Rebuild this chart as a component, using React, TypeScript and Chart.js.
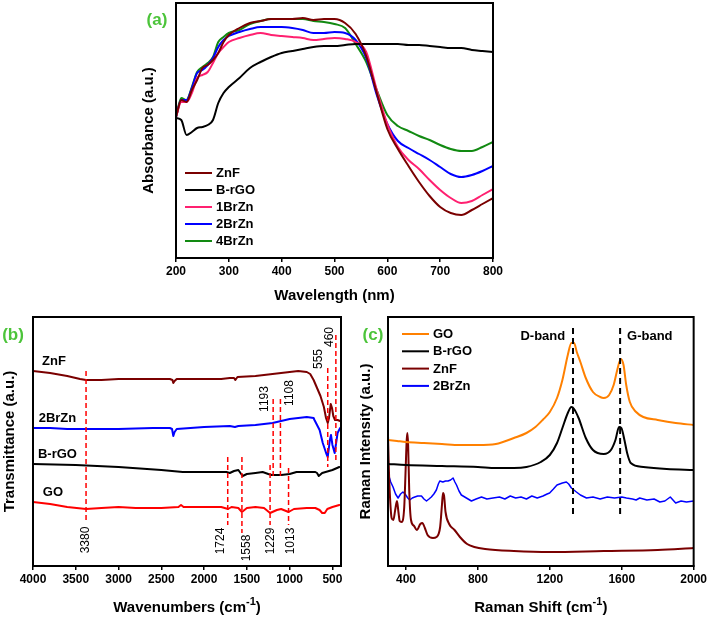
import React, { useEffect, useRef } from 'react';
import { Chart, registerables } from 'chart.js';

Chart.register(...registerables);

const FONT = "'Liberation Sans', Arial, Helvetica, sans-serif";

// ---------- Panel (a): UV-vis absorbance ----------
const uvWavelength = [200, 210, 220, 230, 240, 250, 260, 270, 280, 290, 300, 320, 340, 360, 380, 400, 420, 440, 460, 480, 500, 520, 540, 560, 580, 600, 620, 640, 660, 680, 700, 720, 740, 760, 780, 800];
const uvZnF = [141, 158, 156, 168, 178, 190, 193, 198, 205, 216, 223, 230, 235, 237, 239, 239, 239, 240, 238, 239, 239, 235, 224, 202, 165, 129, 109, 92, 76, 62, 51, 45, 43, 48, 54, 60];
const uvBrGO = [140, 138, 123, 126, 130, 131, 133, 138, 155, 165, 171, 180, 190, 196, 201, 205, 207, 209, 211, 212, 212, 213, 214, 214, 214, 214, 214, 213, 213, 212, 211, 210, 210, 208, 207, 206];
const uv1BrZn = [141, 156, 156, 165, 180, 183, 186, 195, 205, 211, 216, 220, 223, 225, 223, 222, 221, 220, 218, 219, 220, 219, 216, 206, 168, 134, 111, 98, 89, 78, 68, 60, 55, 57, 63, 69];
const uv2BrZn = [141, 158, 158, 170, 185, 188, 193, 200, 211, 218, 222, 226, 229, 231, 231, 231, 230, 228, 225, 225, 226, 225, 218, 200, 163, 134, 117, 110, 104, 98, 91, 84, 81, 83, 87, 92];
const uv4BrZn = [141, 160, 158, 171, 186, 191, 195, 201, 216, 221, 225, 228, 234, 237, 239, 239, 239, 239, 237, 236, 234, 230, 214, 196, 168, 143, 132, 127, 122, 118, 113, 109, 107, 107, 111, 116];
const uvTicks = [200, 300, 400, 500, 600, 700, 800];

// ---------- Panel (b): FTIR transmittance [wavenumber, value] ----------
const ftZnF: [number, number][] = [[4000, 195], [3800, 193], [3600, 190], [3450, 187], [3380, 186], [3200, 186], [3000, 187], [2800, 187], [2500, 187], [2400, 187], [2370, 186], [2360, 183], [2345, 185], [2320, 187], [2200, 187], [2000, 187], [1800, 187], [1700, 188], [1650, 188], [1635, 186], [1610, 189], [1400, 190], [1200, 192], [1000, 194], [900, 195], [800, 194], [760, 192], [720, 186], [680, 178], [640, 170], [600, 159], [575, 148], [555, 143], [540, 148], [520, 162], [505, 158], [490, 150], [470, 146], [440, 146], [410, 145]];
const ft2BrZn: [number, number][] = [[4000, 138], [3800, 138], [3600, 137], [3380, 137], [3000, 137], [2600, 138], [2400, 138], [2375, 137], [2360, 130], [2345, 134], [2320, 137], [2000, 139], [1700, 140], [1640, 139], [1600, 140], [1400, 141], [1200, 143], [1000, 147], [800, 149], [720, 148], [710, 146], [650, 136], [613, 123], [574, 113], [555, 109], [530, 126], [517, 131], [500, 121], [474, 113], [440, 133], [410, 138]];
const ftBrGO: [number, number][] = [[4000, 102], [3500, 101], [3000, 99], [2500, 96], [2250, 94], [2050, 94], [1800, 94], [1740, 94], [1700, 93], [1650, 95], [1600, 96], [1550, 90], [1500, 92], [1400, 93], [1316, 94], [1250, 92], [1210, 91], [1100, 91], [1000, 92], [920, 94], [800, 94], [700, 94], [680, 93], [660, 90], [620, 93], [500, 96], [420, 99]];
const ftGO: [number, number][] = [[4000, 64], [3800, 62], [3600, 59], [3380, 57], [3200, 58], [3000, 59], [2800, 58], [2500, 58], [2300, 59], [2270, 61], [2240, 59], [2000, 59], [1800, 59], [1720, 57], [1680, 59], [1600, 58], [1558, 54], [1500, 58], [1400, 59], [1300, 58], [1229, 53], [1150, 56], [1100, 57], [1013, 54], [950, 57], [800, 58], [700, 58], [650, 56], [620, 53], [590, 53], [560, 57], [500, 59], [420, 61]];
const ftTicks = [4000, 3500, 3000, 2500, 2000, 1500, 1000, 500];
// marked bands: [wavenumber, line top, line bottom, label x, label y]
const ftBands: [number, number, number, number, number][] = [[3380, 195, 43, 3380, 26], [1724, 109, 41, 1806, 25], [1558, 109, 33, 1503, 18], [1229, 101, 41, 1223, 25], [1013, 98, 41, 990, 25], [1193, 167, 88, 1293, 167], [1108, 167, 88, 1001, 173], [555, 198, 99, 663, 207], [460, 231, 103, 535, 229]];
const ftNames: [string, number, number][] = [['ZnF', 3755, 205], ['2BrZn', 3714, 148], ['B-rGO', 3714, 112], ['GO', 3767, 74]];

// ---------- Panel (c): Raman [shift, value] ----------
const raGO: [number, number][] = [[300, 126], [350, 125], [400, 124], [500, 123], [600, 122], [700, 121], [800, 121], [900, 122], [1000, 128], [1070, 133], [1120, 139], [1160, 146], [1200, 154], [1240, 168], [1270, 186], [1300, 211], [1320, 223], [1335, 223], [1350, 214], [1370, 204], [1400, 188], [1440, 174], [1480, 169], [1500, 168], [1530, 171], [1555, 181], [1575, 196], [1595, 207], [1610, 201], [1625, 181], [1645, 164], [1680, 154], [1720, 149], [1800, 146], [1900, 143], [2000, 141]];
const raBrGO: [number, number][] = [[300, 102], [400, 101], [600, 100], [800, 99], [900, 98], [1000, 98], [1070, 99], [1150, 104], [1200, 111], [1240, 123], [1270, 138], [1300, 153], [1320, 159], [1335, 157], [1360, 148], [1400, 128], [1440, 116], [1500, 112], [1540, 116], [1565, 126], [1585, 139], [1598, 138], [1615, 126], [1630, 113], [1650, 103], [1720, 99], [1850, 97], [2000, 96]];
const raZnF: [number, number][] = [[300, 131], [305, 96], [312, 66], [320, 48], [330, 46], [340, 56], [350, 65], [358, 54], [365, 45], [375, 44], [390, 58], [398, 96], [404, 126], [408, 133], [412, 121], [418, 76], [428, 46], [445, 40], [460, 36], [480, 42], [491, 43], [505, 38], [520, 31], [550, 28], [570, 29], [590, 39], [600, 61], [606, 73], [612, 70], [620, 54], [640, 42], [670, 36], [700, 29], [740, 22], [780, 19], [840, 17], [1000, 15], [1200, 14], [1500, 15], [1800, 16], [2000, 18]];
const ra2BrZn: [number, number][] = [[300, 93], [315, 84], [328, 79], [342, 72], [356, 68], [370, 72], [383, 74], [395, 72], [410, 68], [421, 66], [435, 68], [449, 69], [465, 70], [486, 70], [500, 67], [514, 65], [528, 67], [541, 69], [555, 72], [569, 76], [580, 82], [588, 85], [605, 84], [620, 85], [634, 85], [648, 86], [662, 88], [672, 84], [681, 81], [695, 75], [708, 71], [736, 68], [764, 65], [790, 67], [820, 69], [850, 67], [884, 68], [920, 69], [950, 67], [980, 70], [1010, 68], [1040, 69], [1070, 67], [1100, 70], [1130, 68], [1162, 70], [1185, 72], [1199, 73], [1220, 77], [1240, 81], [1255, 82], [1270, 83], [1292, 84], [1305, 82], [1320, 78], [1348, 74], [1370, 71], [1404, 68], [1440, 69], [1480, 67], [1520, 69], [1560, 68], [1600, 69], [1626, 68], [1660, 67], [1680, 66], [1700, 68], [1740, 66], [1780, 67], [1812, 64], [1840, 65], [1870, 69], [1900, 63], [1930, 65], [1960, 64], [2000, 65]];
const raTicks = [400, 800, 1200, 1600, 2000];
const raBands: [string, number, number, number, number, number][] = [['D-band', 1329, 238, 51, 1161, 230], ['G-band', 1591, 238, 51, 1756, 230]];

// ---------- colours ----------
const C_ZNF = '#7a0000';
const C_BRGO = '#000000';
const C_1BR = '#ff2070';
const C_2BR = '#0000ff';
const C_4BR = '#128a12';
const C_GO_FT = '#ff0000';
const C_GO_RA = '#ff8000';
const C_PANEL = '#4cc43a';

type Part = { t: string; sup?: boolean };
type Txt = { text: string; x: number; y: number; size: number; bold: boolean; rotate: boolean };
type VLine = { x: number; y0: number; y1: number; color: string; width: number; dash: number[] };
type Decor = {
  lines: VLine[];
  texts: Txt[];
  legend?: { dx: number; dy: number; gap: number };
  panel: { text: string; dx: number; dy: number };
  xTitle: { parts: Part[]; dy: number };
  yTitle: { text: string; dx: number };
};

function drawParts(ctx: CanvasRenderingContext2D, parts: Part[], cx: number, cy: number, size: number) {
  const f = (p: Part) => `bold ${p.sup ? Math.round(size * 0.7) : size}px ${FONT}`;
  let total = 0;
  for (const p of parts) { ctx.font = f(p); total += ctx.measureText(p.t).width; }
  let x = cx - total / 2;
  ctx.textAlign = 'left';
  ctx.textBaseline = 'middle';
  for (const p of parts) {
    ctx.font = f(p);
    ctx.fillText(p.t, x, p.sup ? cy - size * 0.38 : cy);
    x += ctx.measureText(p.t).width;
  }
}

function decorPlugin(d: Decor) {
  return {
    id: 'decor',
    afterDraw(chart: any) {
      const { ctx, chartArea: a, scales } = chart;
      const xs = scales.x, ys = scales.y;
      ctx.save();
      // dashed marker lines
      for (const l of d.lines) {
        const px = xs.getPixelForValue(l.x);
        ctx.beginPath();
        ctx.setLineDash(l.dash);
        ctx.strokeStyle = l.color;
        ctx.lineWidth = l.width;
        ctx.moveTo(px, ys.getPixelForValue(l.y0));
        ctx.lineTo(px, ys.getPixelForValue(l.y1));
        ctx.stroke();
      }
      ctx.setLineDash([]);
      // frame
      ctx.strokeStyle = '#000';
      ctx.lineWidth = 2;
      ctx.strokeRect(a.left, a.top, a.right - a.left, a.bottom - a.top);
      // data-anchored texts
      ctx.fillStyle = '#000';
      for (const t of d.texts) {
        const px = xs.getPixelForValue(t.x);
        const py = ys.getPixelForValue(t.y);
        ctx.save();
        ctx.translate(px, py);
        if (t.rotate) ctx.rotate(-Math.PI / 2);
        ctx.font = `${t.bold ? 'bold ' : ''}${t.size}px ${FONT}`;
        ctx.textAlign = 'center';
        ctx.textBaseline = 'middle';
        ctx.fillText(t.text, 0, 0);
        ctx.restore();
      }
      // legend
      if (d.legend) {
        const lg = d.legend;
        chart.data.datasets.forEach((ds: any, i: number) => {
          const y = a.top + lg.dy + i * lg.gap;
          const x = a.left + lg.dx;
          ctx.beginPath();
          ctx.strokeStyle = ds.borderColor;
          ctx.lineWidth = 2;
          ctx.moveTo(x, y);
          ctx.lineTo(x + 27, y);
          ctx.stroke();
          ctx.fillStyle = '#000';
          ctx.font = `bold 13px ${FONT}`;
          ctx.textAlign = 'left';
          ctx.textBaseline = 'middle';
          ctx.fillText(ds.label, x + 31, y + 0.5);
        });
      }
      // panel letter
      ctx.fillStyle = C_PANEL;
      ctx.font = `bold 17px ${FONT}`;
      ctx.textAlign = 'center';
      ctx.textBaseline = 'middle';
      ctx.fillText(d.panel.text, a.left + d.panel.dx, a.top + d.panel.dy);
      // axis titles
      ctx.fillStyle = '#000';
      drawParts(ctx, d.xTitle.parts, (a.left + a.right) / 2, a.bottom + d.xTitle.dy, 15);
      ctx.save();
      ctx.translate(a.left + d.yTitle.dx, (a.top + a.bottom) / 2);
      ctx.rotate(-Math.PI / 2);
      ctx.font = `bold 15px ${FONT}`;
      ctx.textAlign = 'center';
      ctx.textBaseline = 'middle';
      ctx.fillText(d.yTitle.text, 0, 0);
      ctx.restore();
      ctx.restore();
    },
  };
}

function xScale(min: number, max: number, ticks: number[], reverse: boolean) {
  return {
    type: 'linear',
    min,
    max,
    reverse,
    afterBuildTicks: (s: any) => { s.ticks = ticks.map((v) => ({ value: v })); },
    afterFit: (s: any) => { s.height = 30; },
    grid: { display: true, drawOnChartArea: false, drawTicks: true, tickLength: 4, color: '#000', lineWidth: 1.5 },
    border: { display: true, color: '#000', width: 2 },
    ticks: {
      color: '#000',
      font: { family: FONT, size: 12, weight: 'bold' },
      padding: 2,
      maxRotation: 0,
      autoSkip: false,
      callback: (v: any) => String(v),
    },
  };
}

function yScale(max: number, width: number) {
  return {
    type: 'linear',
    min: 0,
    max,
    afterFit: (s: any) => { s.width = width; },
    grid: { display: false },
    border: { display: true, color: '#000', width: 2 },
    ticks: { display: false },
  };
}

function line(label: string, color: string, data: { x: number; y: number }[], width: number, smooth: boolean) {
  return {
    label,
    data,
    borderColor: color,
    backgroundColor: color,
    borderWidth: width,
    pointRadius: 0,
    fill: false,
    cubicInterpolationMode: smooth ? 'monotone' : 'default',
    tension: 0,
  };
}

const pairs = (arr: [number, number][]) => arr.map(([x, y]) => ({ x, y }));
const uvSeries = (ys: number[]) => uvWavelength.map((x, i) => ({ x, y: ys[i] }));

function baseOptions(padding: any, x: any, y: any) {
  return {
    responsive: false,
    animation: false,
    devicePixelRatio: 1,
    layout: { padding },
    plugins: { legend: { display: false }, tooltip: { enabled: false } },
    elements: { line: { borderJoinStyle: 'round', borderCapStyle: 'round' } },
    scales: { x, y },
  };
}

function configA(): any {
  return {
    type: 'line',
    data: {
      datasets: [
        line('ZnF', C_ZNF, uvSeries(uvZnF), 2, true),
        line('B-rGO', C_BRGO, uvSeries(uvBrGO), 2, true),
        line('1BrZn', C_1BR, uvSeries(uv1BrZn), 2, true),
        line('2BrZn', C_2BR, uvSeries(uv2BrZn), 2, true),
        line('4BrZn', C_4BR, uvSeries(uv4BrZn), 2, true),
      ],
    },
    options: baseOptions({ top: 3, right: 17, left: 0, bottom: 22 }, xScale(200, 800, uvTicks, false), yScale(255, 46)),
    plugins: [decorPlugin({
      lines: [],
      texts: [],
      legend: { dx: 9, dy: 170, gap: 17 },
      panel: { text: '(a)', dx: -19, dy: 17 },
      xTitle: { parts: [{ t: 'Wavelength (nm)' }], dy: 38 },
      yTitle: { text: 'Absorbance (a.u.)', dx: -27 },
    })],
  };
}

function configB(): any {
  const lines: VLine[] = ftBands.map(([x, y0, y1]) => ({ x, y0, y1, color: '#ff0000', width: 1.5, dash: [5, 3] }));
  const texts: Txt[] = [
    ...ftBands.map(([v, , , x, y]) => ({ text: String(v), x, y, size: 12, bold: false, rotate: true })),
    ...ftNames.map(([text, x, y]) => ({ text, x, y, size: 13, bold: true, rotate: false })),
  ];
  return {
    type: 'line',
    data: {
      datasets: [
        line('ZnF', C_ZNF, pairs(ftZnF), 2, false),
        line('2BrZn', C_2BR, pairs(ft2BrZn), 2, false),
        line('B-rGO', C_BRGO, pairs(ftBrGO), 2, false),
        line('GO', C_GO_FT, pairs(ftGO), 2, false),
      ],
    },
    options: baseOptions({ top: 17, right: 19, left: 0, bottom: 22 }, xScale(400, 4000, ftTicks, true), yScale(249, 33)),
    plugins: [decorPlugin({
      lines,
      texts,
      panel: { text: '(b)', dx: -20, dy: 18 },
      xTitle: { parts: [{ t: 'Wavenumbers (cm' }, { t: '-1', sup: true }, { t: ')' }], dy: 42 },
      yTitle: { text: 'Transmittance (a.u.)', dx: -23 },
    })],
  };
}

function configC(): any {
  const lines: VLine[] = raBands.map(([, x, y0, y1]) => ({ x, y0, y1, color: '#000', width: 2, dash: [6, 4] }));
  const texts: Txt[] = raBands.map(([text, , , , x, y]) => ({ text, x, y, size: 13, bold: true, rotate: false }));
  return {
    type: 'line',
    data: {
      datasets: [
        line('GO', C_GO_RA, pairs(raGO), 2, true),
        line('B-rGO', C_BRGO, pairs(raBrGO), 2, true),
        line('ZnF', C_ZNF, pairs(raZnF), 2, true),
        line('2BrZn', C_2BR, pairs(ra2BrZn), 1.5, false),
      ],
    },
    options: baseOptions({ top: 17, right: 15, left: 0, bottom: 22 }, xScale(300, 2000, raTicks, false), yScale(249, 28)),
    plugins: [decorPlugin({
      lines,
      texts,
      legend: { dx: 14, dy: 17, gap: 17.3 },
      panel: { text: '(c)', dx: -15, dy: 18 },
      xTitle: { parts: [{ t: 'Raman Shift (cm' }, { t: '-1', sup: true }, { t: ')' }], dy: 42 },
      yTitle: { text: 'Raman Intensity (a.u.)', dx: -22 },
    })],
  };
}

function Panel(props: { left: number; top: number; width: number; height: number; make: () => any }) {
  const ref = useRef<HTMLCanvasElement>(null);
  useEffect(() => {
    const chart = new Chart(ref.current as HTMLCanvasElement, props.make());
    return () => chart.destroy();
  }, []);
  return (
    <canvas
      ref={ref}
      width={props.width}
      height={props.height}
      style={{ position: 'absolute', left: props.left, top: props.top, width: props.width, height: props.height }}
    />
  );
}

export default function App() {
  return (
    <div style={{ position: 'absolute', left: 0, top: 0, width: 709, height: 618, background: '#fff', overflow: 'hidden' }}>
      <Panel left={130} top={0} width={380} height={310} make={configA} />
      <Panel left={0} top={300} width={360} height={318} make={configB} />
      <Panel left={360} top={300} width={349} height={318} make={configC} />
    </div>
  );
}
